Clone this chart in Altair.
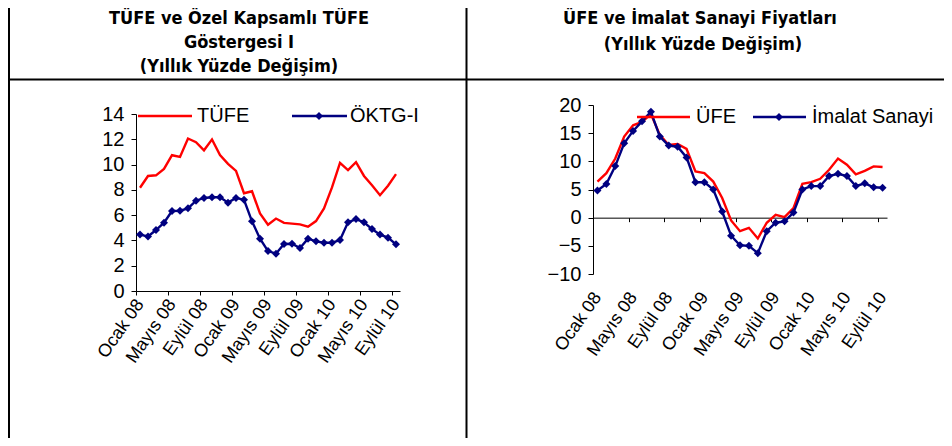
import json
import altair as alt
import pandas as pd

# ---------------- data ----------------
ay_adlari = ["Ocak", "Şubat", "Mart", "Nisan", "Mayıs", "Haziran",
             "Temmuz", "Ağustos", "Eylül", "Ekim", "Kasım", "Aralık"]
yillar = ["08", "09", "10"]
aylar = [f"{a} {y}" for y in yillar for a in ay_adlari][:33]   # Ocak 08 .. Eylül 10

tick_labels = ["Ocak 08", "Mayıs 08", "Eylül 08", "Ocak 09", "Mayıs 09",
               "Eylül 09", "Ocak 10", "Mayıs 10", "Eylül 10"]

tufe = [8.17, 9.10, 9.15, 9.66, 10.74, 10.61, 12.06, 11.77, 11.13, 11.99, 10.76, 10.06,
        9.50, 7.73, 7.89, 6.13, 5.24, 5.73, 5.39, 5.33, 5.27, 5.08, 5.53, 6.53,
        8.19, 10.13, 9.56, 10.19, 9.10, 8.37, 7.58, 8.33, 9.24]
oktg = [4.46, 4.32, 4.82, 5.40, 6.33, 6.35, 6.54, 7.14, 7.36, 7.41, 7.41, 6.99,
        7.36, 7.22, 5.51, 4.14, 3.16, 2.95, 3.72, 3.74, 3.40, 4.14, 3.93, 3.82,
        3.82, 4.03, 5.43, 5.69, 5.43, 4.90, 4.46, 4.22, 3.69]
ufe = [6.4, 7.9, 10.5, 14.4, 16.4, 17.0, 18.4, 14.7, 12.9, 13.1, 12.2, 8.2,
       7.9, 6.4, 3.5, -0.5, -2.4, -1.8, -3.7, -0.9, 0.5, 0.1, 1.7, 6.0,
       6.3, 6.9, 8.5, 10.5, 9.4, 7.7, 8.3, 9.1, 9.0]
imalat = [4.84, 5.97, 9.16, 13.2, 15.4, 17.1, 18.8, 14.4, 12.8, 12.6, 10.7, 6.3,
          6.3, 5.0, 1.1, -3.2, -4.9, -5.0, -6.3, -2.4, -0.9, -0.65, 0.9, 5.0,
          5.6, 5.6, 7.4, 7.8, 7.4, 5.6, 6.1, 5.4, 5.3]

seri_sol = ["TÜFE", "ÖKTG-I"]
seri_sag = ["ÜFE", "İmalat Sanayi"]
baslik_sol = ["TÜFE ve Özel Kapsamlı TÜFE", "Göstergesi I", "(Yıllık Yüzde Değişim)"]
baslik_sag = ["ÜFE ve İmalat Sanayi Fiyatları", "(Yıllık Yüzde Değişim)"]

df = pd.DataFrame({
    "ay": aylar,
    "pos": [i + 0.5 for i in range(len(aylar))],   # category centre
    "tufe": tufe, "oktg": oktg, "ufe": ufe, "imalat": imalat,
})
one = pd.DataFrame({"k": [0]})

# ---------------- layout ----------------
W, H = 936, 430
L_X, L_Y = [128, 392], [283, 106]
R_X, R_Y = [585, 879], [266, 97]
R_ZERO = R_Y[0] + (R_Y[1] - R_Y[0]) * (10 / 30)

RED, NAVY = "#FF0000", "#000080"
AFONT = "Liberation Sans"
TFONT = "'DejaVu Sans Condensed', 'DejaVu Sans'"
TSIZE = 18
LBL = 18
LEG = 20
ANG = -55

label_expr = f"{json.dumps(tick_labels, ensure_ascii=False)}[round(datum.value / 4)]"
tick_vals = list(range(0, 33, 4))

common = dict(grid=False, title=None, domainColor="black", tickColor="black",
              labelColor="black", labelFont=AFONT, domainWidth=1, tickWidth=1,
              labelFlush=False, labelOverlap=False, labelBound=False)

# left panel axes
lx_scale = alt.Scale(domain=[0, 33], range=L_X, nice=False, zero=False)
ly_scale = alt.Scale(domain=[0, 14], range=L_Y, nice=False)
lx_axis = alt.Axis(orient="bottom", offset=-(H - L_Y[0]), values=tick_vals,
                   labelExpr=label_expr, labelAngle=ANG, labelAlign="right",
                   labelBaseline="middle", labelOffset=4, labelPadding=6,
                   tickSize=4, labelFontSize=LBL, **common)
ly_axis = alt.Axis(orient="left", offset=-L_X[0], values=list(range(0, 15, 2)),
                   tickSize=5, labelPadding=7, labelFontSize=LEG, **common)

# right panel axes
rx_scale = alt.Scale(domain=[0, 33], range=R_X, nice=False, zero=False)
ry_scale = alt.Scale(domain=[-10, 20], range=R_Y, nice=False)
rx_axis_zero = alt.Axis(orient="bottom", offset=-(H - R_ZERO), values=tick_vals,
                        labels=False, tickSize=4, **common)
rx_axis_lbl = alt.Axis(orient="bottom", offset=-(H - R_Y[0]), values=tick_vals,
                       domain=False, ticks=False, tickSize=0,
                       labelExpr=label_expr, labelAngle=ANG, labelAlign="right",
                       labelBaseline="middle", labelOffset=4.45, labelPadding=20,
                       labelFontSize=LBL, **common)
ry_axis = alt.Axis(orient="left", offset=-R_X[0], values=list(range(-10, 21, 5)),
                   tickSize=5, labelPadding=7, labelFontSize=LEG, **common)

base = alt.Chart(df)
diamond = alt.OverlayMarkDef(shape="diamond", size=64, filled=True, color=NAVY, opacity=1)

left = alt.layer(
    base.mark_line(color=RED, strokeWidth=2.4).encode(
        x=alt.X("pos:Q", scale=lx_scale, axis=lx_axis),
        y=alt.Y("tufe:Q", scale=ly_scale, axis=ly_axis)),
    base.mark_line(color=NAVY, strokeWidth=2.4, point=diamond).encode(
        x=alt.X("pos:Q", scale=lx_scale, axis=lx_axis),
        y=alt.Y("oktg:Q", scale=ly_scale, axis=ly_axis)),
)

right = alt.layer(
    base.mark_line(color=RED, strokeWidth=2.4).encode(
        x=alt.X("pos:Q", scale=rx_scale, axis=rx_axis_zero),
        y=alt.Y("ufe:Q", scale=ry_scale, axis=ry_axis)),
    base.mark_line(color=NAVY, strokeWidth=2.4, point=diamond).encode(
        x=alt.X("pos:Q", scale=rx_scale, axis=rx_axis_lbl),
        y=alt.Y("imalat:Q", scale=ry_scale, axis=ry_axis)),
).resolve_scale(x="independent").resolve_axis(x="independent")

dec = alt.Chart(one)


def hline(x1, x2, y, color="black", w=2):
    return dec.mark_rule(color=color, strokeWidth=w).encode(
        x=alt.value(x1), x2=alt.value(x2), y=alt.value(y))


def vline(x, y1, y2, w=2):
    return dec.mark_rule(color="black", strokeWidth=w).encode(
        x=alt.value(x), y=alt.value(y1), y2=alt.value(y2))


def text(t, x, y, size, font, weight="normal", align="center", baseline="middle"):
    return dec.mark_text(align=align, baseline=baseline, font=font, fontSize=size,
                         fontWeight=weight, color="black").encode(
        x=alt.value(x), y=alt.value(y), text=alt.value(t))


def title(t, x, y):
    return text(t, x, y, TSIZE, TFONT, "bold", baseline="alphabetic")


def dia(x, y):
    return dec.mark_point(shape="diamond", size=64, filled=True, color=NAVY,
                          opacity=1).encode(x=alt.value(x), y=alt.value(y))


decor = [
    # frame
    vline(1, 0, H), vline(458.5, 0, H), hline(0, W, 71.5),
    # titles (alphabetic baselines)
    title(baslik_sol[0], 231, 16),
    title(baslik_sol[1], 231, 40),
    title(baslik_sol[2], 231, 64),
    title(baslik_sag[0], 692, 16),
    title(baslik_sag[1], 695, 42),
    # left legend
    hline(130, 184, 108, RED, 2.4), text(seri_sol[0], 189, 108, LEG, AFONT, align="left"),
    hline(284, 339, 108, NAVY, 2.4), dia(311, 108),
    text(seri_sol[1], 342, 108, LEG, AFONT, align="left"),
    # right legend
    hline(629, 682, 109, RED, 2.4), text(seri_sag[0], 688, 109, LEG, AFONT, align="left"),
    hline(745, 798, 109, NAVY, 2.4), dia(771, 109),
    text(seri_sag[1], 804, 109, LEG, AFONT, align="left"),
]

chart = alt.layer(left, right, *decor).resolve_scale(
    x="independent", y="independent").resolve_axis(
    x="independent", y="independent").properties(
    width=W, height=H, autosize="none", padding=0
).configure_view(strokeWidth=0)

chart.save("out.html", embed_options={"renderer": "svg", "actions": False})
